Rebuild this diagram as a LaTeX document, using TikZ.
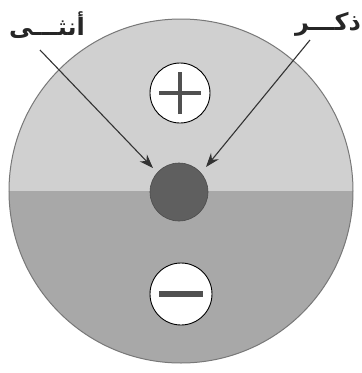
\documentclass[tikz,border=0pt]{standalone}
\usepackage{fontspec}
\newfontfamily\arabicfont[Script=Arabic]{DejaVu Sans}
\TeXXeTstate=1
\usetikzlibrary{arrows.meta}
\definecolor{upgray}{RGB}{208,208,208}
\definecolor{lowgray}{RGB}{168,168,168}
\definecolor{dotgray}{RGB}{95,95,95}
\definecolor{edgegray}{RGB}{120,120,120}
\definecolor{signgray}{RGB}{80,80,80}
\tikzset{
  sign/.style={circle, draw=black, line width=0.9pt, fill=white, minimum size=60pt, inner sep=0pt},
  label/.style={font=\arabicfont\bfseries\fontsize{24}{28}\selectfont, text=black!85, inner sep=0pt},
  pointer/.style={draw=black!80, line width=1.1pt, -{Stealth[length=14pt,width=10pt]}},
}
\begin{document}
\begin{tikzpicture}[x=1pt,y=-1pt]
\useasboundingbox (0,0) rectangle (362,373);
\fill[white] (0,0) rectangle (362,373);
% halves
\begin{scope}
  \clip (181,191) circle (172);
  \fill[upgray] (0,0) rectangle (362,191);
  \fill[lowgray] (0,191) rectangle (362,373);
\end{scope}
\node[circle, draw=edgegray, line width=1pt, minimum size=344pt, inner sep=0pt] (disc) at (181,191) {};
% centre dot
\node[circle, fill=dotgray, draw=dotgray!80!black, line width=0.6pt, minimum size=58pt, inner sep=0pt] (dot) at (179,192) {};
% plus and minus
\node[sign] (plus) at (180,93) {};
\draw[signgray, line width=4pt] ([xshift=-21pt]plus.center) -- ([xshift=21pt]plus.center);
\draw[signgray, line width=4pt] ([yshift=-21pt]plus.center) -- ([yshift=21pt]plus.center);
\node[sign, minimum size=62pt] (minus) at (181,294) {};
\draw[signgray, line width=5.5pt] ([xshift=-22pt]minus.center) -- ([xshift=22pt]minus.center);
% labels
\node[label] (female) at (47,25) {\beginR أنثـــى\endR};
\node[label] (male) at (328,24) {\beginR ذكـــر\endR};
\coordinate (fs) at (40,50);
\coordinate (ms) at (310,40);
\coordinate (ft) at (153,168);
\coordinate (mt) at (206,167);
\draw[pointer] (fs) -- (ft);
\draw[pointer] (ms) -- (mt);
\end{tikzpicture}
\end{document}
